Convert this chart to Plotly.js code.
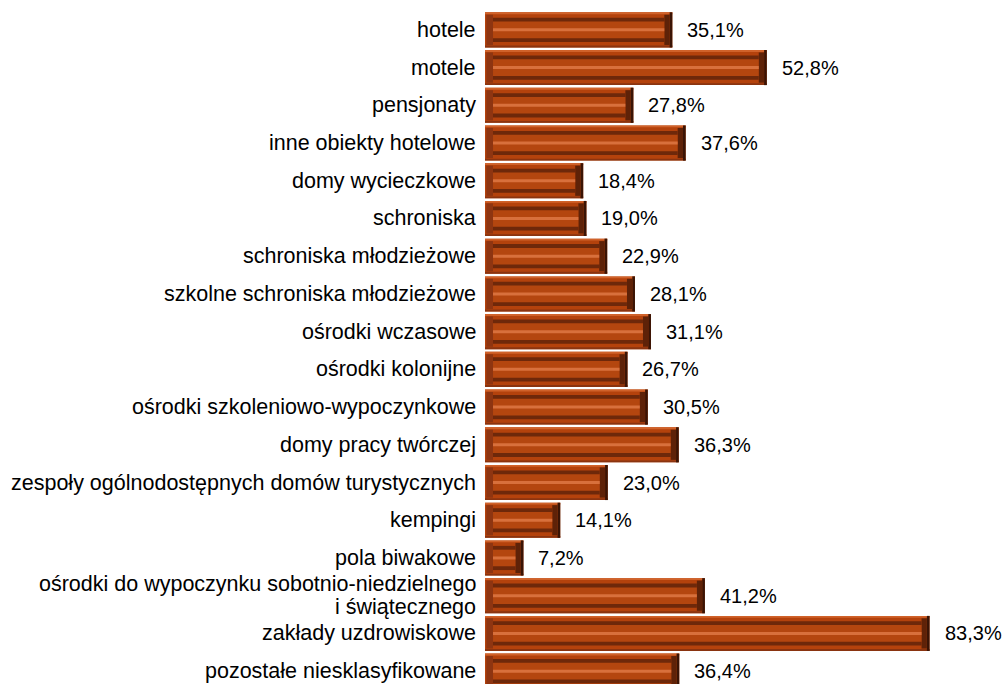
<!DOCTYPE html>
<html>
<head>
<meta charset="utf-8">
<script src="https://cdn.plot.ly/plotly-3.0.1.min.js"></script>
<style>html,body{margin:0;padding:0;background:#fff;overflow:hidden;}#chart{width:1005px;height:690px;}</style>
</head>
<body>
<div id="chart"></div>
<script>
var categories = [
  "hotele",
  "motele",
  "pensjonaty",
  "inne obiekty hotelowe",
  "domy wycieczkowe",
  "schroniska",
  "schroniska młodzieżowe",
  "szkolne schroniska młodzieżowe",
  "ośrodki wczasowe",
  "ośrodki kolonijne",
  "ośrodki szkoleniowo-wypoczynkowe",
  "domy pracy twórczej",
  "zespoły ogólnodostępnych domów turystycznych",
  "kempingi",
  "pola biwakowe",
  "ośrodki do wypoczynku sobotnio-niedzielnego\ni świątecznego",
  "zakłady uzdrowiskowe",
  "pozostałe niesklasyfikowane"
];
var values = [35.1, 52.8, 27.8, 37.6, 18.4, 19.0, 22.9, 28.1, 31.1, 26.7, 30.5, 36.3, 23.0, 14.1, 7.2, 41.2, 83.3, 36.4];

var valueLabels = values.map(function(v){ return v.toFixed(1).replace('.', ',') + '%'; });

var FONT = 'Liberation Sans, Arial, sans-serif';
var inset = 1.5;
function layer(width, base, shrink, color, offset) {
  var t = {
    type: 'bar', orientation: 'h',
    y: categories,
    x: values.map(function(v){ return Math.max(v - shrink, 0.2); }),
    base: values.map(function(){ return base; }),
    width: width,
    marker: {color: color, line: {width: 0}},
    hoverinfo: 'skip', showlegend: false
  };
  if (offset !== undefined) t.offset = offset;
  return t;
}

var traces = [
  layer(0.93, 0, 0, '#B4420C'),
  layer(0.05, 0, 0, '#D0622A', -0.465),
  layer(0.05, 0, 0, '#8A3410', 0.415),
  {
    type: 'bar', orientation: 'h', y: categories,
    x: values.map(function(){ return 0.5; }),
    base: values.map(function(v){ return v - 0.5; }),
    width: 0.93, marker: {color: '#3A1405', line: {width: 0}},
    hoverinfo: 'skip', showlegend: false
  },
  {
    type: 'bar', orientation: 'h', y: categories,
    x: values.map(function(){ return inset - 0.5; }),
    base: values.map(function(v){ return v - inset; }),
    width: 0.8, marker: {color: '#5E2208', line: {width: 0}},
    hoverinfo: 'skip', showlegend: false
  },
  {
    type: 'bar', orientation: 'h', y: categories,
    x: values.map(function(){ return inset - 0.25; }),
    base: values.map(function(){ return 0.25; }),
    width: 0.8, marker: {color: '#8E3511', line: {width: 0}},
    hoverinfo: 'skip', showlegend: false
  },
  layer(0.64, inset, 2 * inset, '#6E280A'),
  layer(0.44, inset, 2 * inset, '#B4460F'),
  layer(0.08, inset, 2 * inset, '#D8703C')
];

var annotations = [];
values.forEach(function(v, i){
  annotations.push({
    x: v, y: categories[i], xref: 'x', yref: 'y',
    text: valueLabels[i], showarrow: false,
    xanchor: 'left', yanchor: 'middle', xshift: 13, yshift: 0,
    font: {family: FONT, size: 20, color: '#000'}
  });
});
categories.forEach(function(c){
  var lines = c.split('\n');
  var n = lines.length, lh = 23;
  lines.forEach(function(line, k){
    annotations.push({
      x: 0, y: c, xref: 'x', yref: 'y',
      text: line, showarrow: false,
      xanchor: 'right', yanchor: 'middle', xshift: -7,
      yshift: ((n - 1) / 2 - k) * lh,
      font: {family: FONT, size: 21.5, color: '#000'}
    });
  });
});

var layout = {
  width: 1005, height: 690,
  margin: {l: 485, r: 5, t: 11, b: 0, pad: 0},
  paper_bgcolor: '#fff', plot_bgcolor: '#fff',
  barmode: 'overlay',
  showlegend: false,
  xaxis: {
    range: [0, 96.5], showgrid: false, zeroline: false, showline: false,
    showticklabels: false, ticks: '', fixedrange: true
  },
  yaxis: {
    type: 'category', autorange: 'reversed', showgrid: false, zeroline: false,
    showline: false, ticks: '', showticklabels: false
  },
  annotations: annotations,
  font: {family: FONT}
};

Plotly.newPlot('chart', traces, layout, {displayModeBar: false, staticPlot: true});
</script>
</body>
</html>
